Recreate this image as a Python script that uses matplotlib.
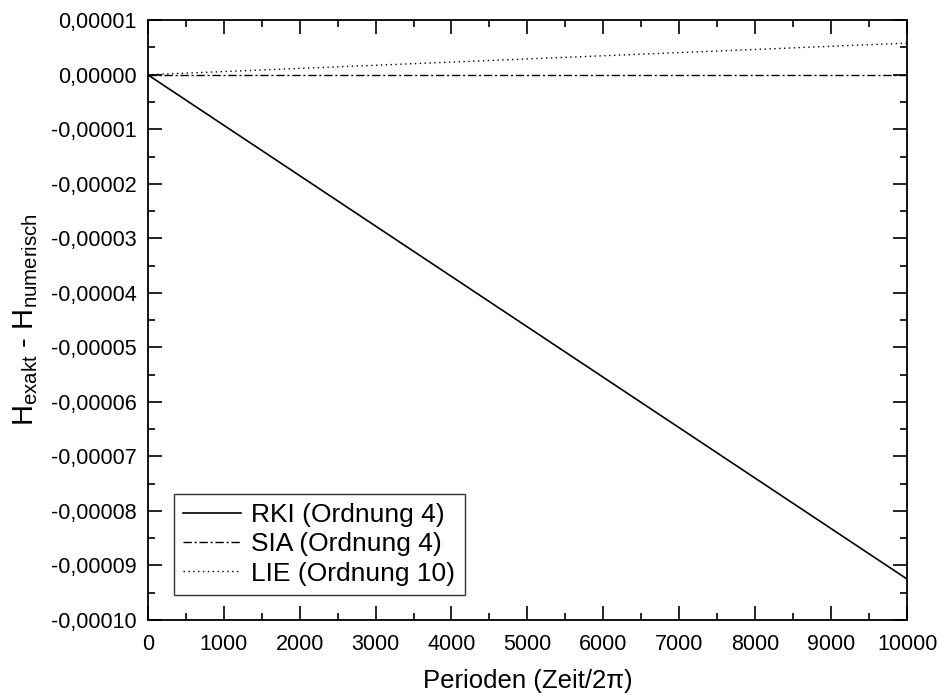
import matplotlib
matplotlib.use("Agg")
import matplotlib.pyplot as plt
from matplotlib.ticker import FuncFormatter, MultipleLocator
import numpy as np

periods = [0, 10000]
rki = [0.0, -9.25e-5]
sia = [0.0, 0.0]
lie = [0.0, 5.8e-6]

plt.rcParams['font.family'] = ['Liberation Sans', 'DejaVu Sans']
plt.rcParams['mathtext.fontset'] = 'custom'
plt.rcParams['mathtext.rm'] = 'Liberation Sans'

fig = plt.figure(figsize=(9.41, 6.97), dpi=100)
ax = fig.add_axes([0.157, 0.1105, 0.807, 0.8605])

ax.plot(periods, rki, color='black', lw=1.2, ls='-', label='RKI (Ordnung 4)')
ax.plot(periods, sia, color='black', lw=1.0, ls=(0, (6, 2, 1.5, 2)), label='SIA (Ordnung 4)')
ax.plot(periods, lie, color='black', lw=1.0, ls=(0, (1, 2.5)), label='LIE (Ordnung 10)')

ax.set_xlim(0, 10000)
ax.set_ylim(-0.0001, 0.00001)
ax.xaxis.set_major_locator(MultipleLocator(1000))
ax.xaxis.set_minor_locator(MultipleLocator(500))
ax.yaxis.set_major_locator(MultipleLocator(0.00001))
ax.yaxis.set_minor_locator(MultipleLocator(0.000005))
ax.yaxis.set_major_formatter(FuncFormatter(lambda v, p: ('%.5f' % v).replace('.', ',').replace('-0,00000', '0,00000')))
ax.tick_params(which='both', direction='in', top=True, right=True, width=1.2, labelsize=15.5)
ax.tick_params(which='major', length=10)
ax.tick_params(which='minor', length=5)
ax.tick_params(axis='x', which='major', pad=10)
ax.tick_params(axis='y', which='major', pad=8)
for s in ax.spines.values():
    s.set_linewidth(1.3)

ax.set_xlabel('Perioden (Zeit/2π)', fontsize=18.5, labelpad=10)
ax.set_ylabel('H$_{\\mathregular{exakt}}$ - H$_{\\mathregular{numerisch}}$', fontsize=21, labelpad=8)

leg = ax.legend(loc='lower left', bbox_to_anchor=(0.034, 0.042), fontsize=19, frameon=True,
                fancybox=False, edgecolor='black', handlelength=2.2, handletextpad=0.4,
                borderpad=0.35, labelspacing=0.2, borderaxespad=0)
leg.get_frame().set_linewidth(1.0)

fig.savefig('out.png', dpi=100)
